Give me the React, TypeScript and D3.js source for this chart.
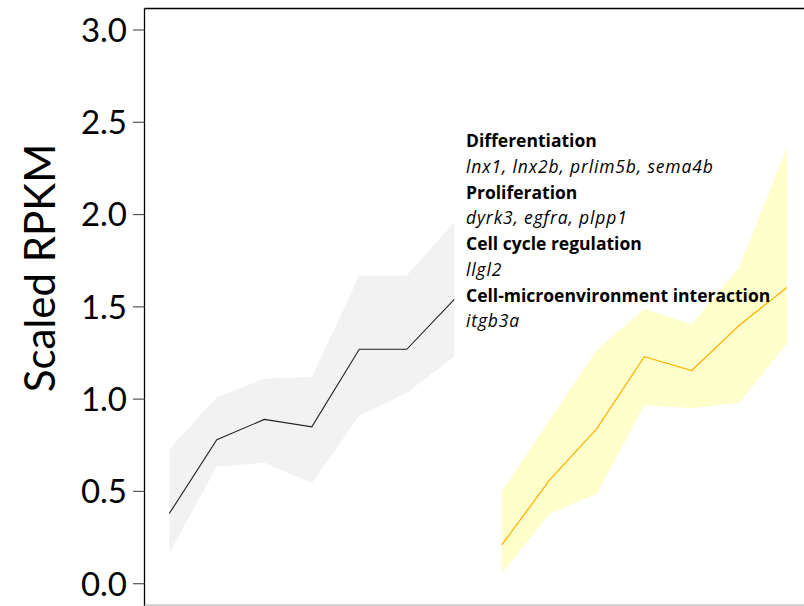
import React from "react";
import * as d3 from "d3";

const grayIdx = [0, 1, 2, 3, 4, 5, 6];
const grayMean = [0.38, 0.78, 0.89, 0.85, 1.27, 1.27, 1.54];
const grayUpper = [0.73, 1.01, 1.11, 1.12, 1.67, 1.67, 1.96];
const grayLower = [0.165, 0.635, 0.655, 0.545, 0.91, 1.035, 1.23];

const yellowIdx = [7, 8, 9, 10, 11, 12, 13];
const yellowMean = [0.21, 0.56, 0.84, 1.23, 1.155, 1.4, 1.605];
const yellowUpper = [0.5, 0.885, 1.265, 1.49, 1.405, 1.715, 2.36];
const yellowLower = [0.056, 0.378, 0.486, 0.968, 0.95, 0.98, 1.3];

const yTicks = [0, 0.5, 1.0, 1.5, 2.0, 2.5, 3.0];

const annotations: { text: string; bold: boolean }[] = [
  { text: "Differentiation", bold: true },
  { text: "lnx1, lnx2b, prlim5b, sema4b", bold: false },
  { text: "Proliferation", bold: true },
  { text: "dyrk3, egfra, plpp1", bold: false },
  { text: "Cell cycle regulation", bold: true },
  { text: "llgl2", bold: false },
  { text: "Cell-microenvironment interaction", bold: true },
  { text: "itgb3a", bold: false },
];

const W = 804;
const H = 606;
const FONT = "Lato, 'Open Sans', sans-serif";
const NOTE_FONT = "'Open Sans', sans-serif";

export default function App() {
  const x = d3.scaleLinear().domain([0, 13]).range([169.3, 786.8]);
  const y = d3.scaleLinear().domain([0, 3]).range([583.7, 30]);

  const mk = (idx: number[], lo: number[], hi: number[], mean: number[]) => {
    const rows = idx.map((d, i) => ({ i: d, lo: lo[i], hi: hi[i], m: mean[i] }));
    const area = d3
      .area<any>()
      .x((d) => x(d.i))
      .y0((d) => y(d.lo))
      .y1((d) => y(d.hi))(rows) as string;
    const line = d3
      .line<any>()
      .x((d) => x(d.i))
      .y((d) => y(d.m))(rows) as string;
    return { area, line };
  };
  const g = mk(grayIdx, grayLower, grayUpper, grayMean);
  const yl = mk(yellowIdx, yellowLower, yellowUpper, yellowMean);

  const left = 144.5;
  const top = 8.5;
  const bottom = 605;

  return (
    <svg
      width={W}
      height={H}
      style={{ position: "absolute", left: 0, top: 0, background: "#fff" }}
    >
      <path d={g.area} fill="#f2f2f2" />
      <path d={yl.area} fill="#ffffcc" />
      <path d={g.line} fill="none" stroke="#222" strokeWidth={1.1} />
      <path d={yl.line} fill="none" stroke="#ffb300" strokeWidth={1.3} />

      {/* frame */}
      <line x1={left} x2={W + 2} y1={top} y2={top} stroke="#000" strokeWidth={1.3} />
      <line x1={left} x2={left} y1={top} y2={bottom + 1} stroke="#000" strokeWidth={1.3} />
      <line x1={left} x2={W + 2} y1={bottom} y2={bottom} stroke="#aaa" strokeWidth={1} />

      {yTicks.map((t) => (
        <g key={t}>
          <line x1={133} x2={left} y1={y(t)} y2={y(t)} stroke="#555" strokeWidth={1.2} />
          <text
            x={127}
            y={y(t)}
            dy="0.36em"
            textAnchor="end"
            fontFamily={FONT}
            fontSize={33}
            fill="#000"
          >
            {t.toFixed(1)}
          </text>
        </g>
      ))}

      <text
        transform={`translate(55,268) rotate(-90)`}
        textAnchor="middle"
        fontFamily={FONT}
        fontSize={42}
        fill="#000"
      >
        Scaled RPKM
      </text>

      {annotations.map((a, i) => (
        <text
          key={i}
          x={466}
          y={147 + i * 25.75}
          fontFamily={NOTE_FONT}
          fontSize={17.5}
          fontWeight={a.bold ? "bold" : "normal"}
          fontStyle={a.bold ? "normal" : "italic"}
          letterSpacing={a.bold ? 0 : 0.85}
          fill="#000"
        >
          {a.text}
        </text>
      ))}
    </svg>
  );
}
